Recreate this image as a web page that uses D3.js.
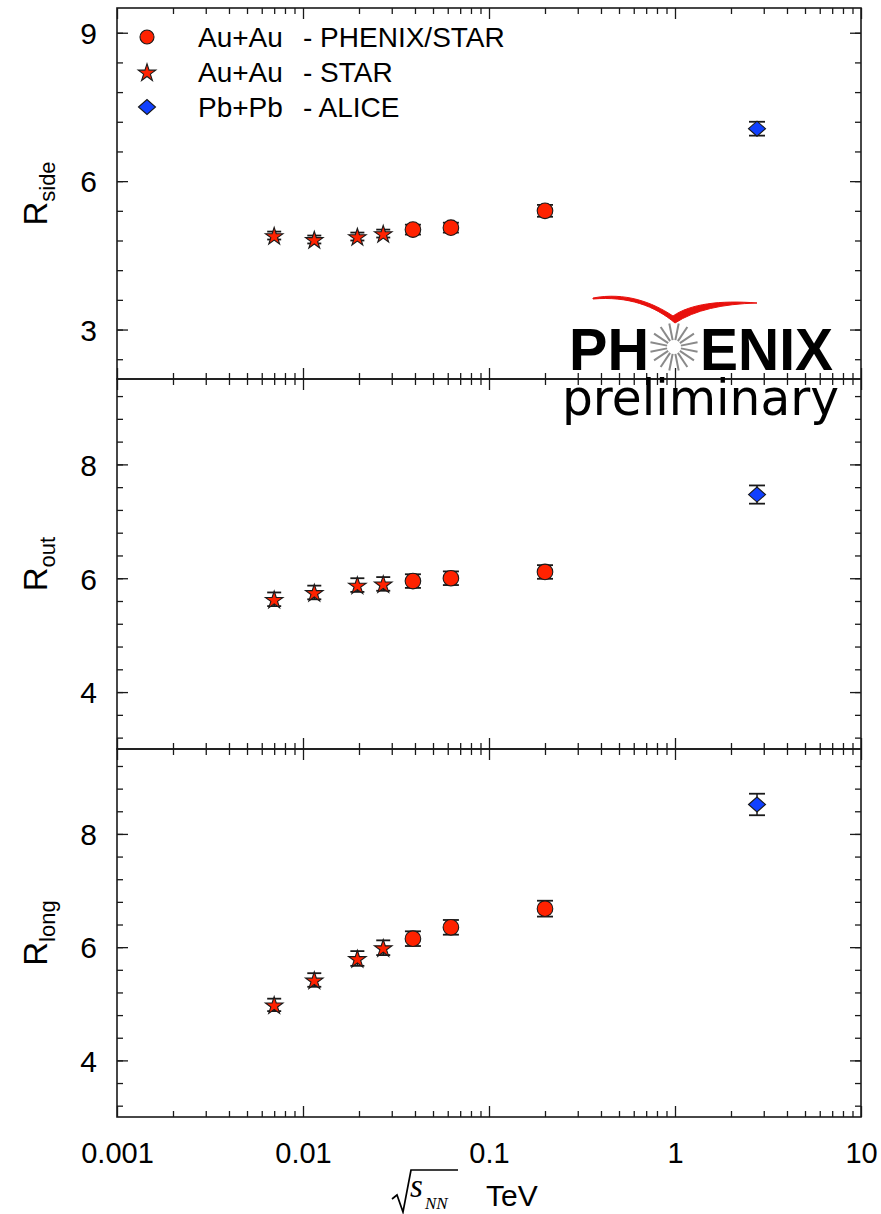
<!DOCTYPE html>
<html>
<head>
<meta charset="utf-8">
<script src="https://cdn.jsdelivr.net/npm/d3@7"></script>
<style>
  body { margin: 0; background: #fff; }
  svg { display: block; font-family: "Liberation Sans", Arial, sans-serif; }
</style>
</head>
<body>
<script>
// collision energy sqrt(s_NN) in TeV, one entry per point
const energy = [0.0070, 0.0115, 0.0196, 0.027, 0.039, 0.0624, 0.2, 2.76];
const experiment = ["STAR", "STAR", "STAR", "STAR", "PHENIX", "PHENIX", "PHENIX", "ALICE"];

// HBT radii (fm) and errors
const rSide    = [4.90, 4.82, 4.88, 4.94, 5.02, 5.06, 5.40, 7.06];
const rSideErr = [0.08, 0.08, 0.08, 0.08, 0.10, 0.10, 0.12, 0.14];
const rOut     = [5.63, 5.75, 5.88, 5.90, 5.95, 6.00, 6.11, 7.47];
const rOutErr  = [0.12, 0.12, 0.12, 0.12, 0.12, 0.12, 0.12, 0.16];
const rLong    = [4.98, 5.42, 5.80, 5.99, 6.15, 6.35, 6.68, 8.52];
const rLongErr = [0.11, 0.12, 0.13, 0.13, 0.13, 0.13, 0.14, 0.19];

const sideTicks = [3, 6, 9];
const outTicks = [4, 6, 8];
const longTicks = [4, 6, 8];
const xTickValues = [0.001, 0.01, 0.1, 1, 10];
const xTickLabels = ["0.001", "0.01", "0.1", "1", "10"];

const legendLabels = [
  ["Au+Au", "- PHENIX/STAR", "PHENIX"],
  ["Au+Au", "- STAR", "STAR"],
  ["Pb+Pb", "- ALICE", "ALICE"]
];

const W = 881, H = 1214;
const left = 117, right = 861;
const red = "#ff2200", blue = "#1040ff", ink = "#1a1a1a";

const svg = d3.select("body").append("svg")
  .attr("width", W).attr("height", H);

const x = d3.scaleLog().domain([0.001, 10]).range([left, right]);
const xMinor = x.ticks().filter(v => !xTickValues.some(t => Math.abs(t - v) < 1e-12));

const panels = [
  { sub: "side", values: rSide, errs: rSideErr, domain: [2, 9.5], ticks: sideTicks, minor: d3.range(2.4, 9.5, 0.6), top: 8, bottom: 379 },
  { sub: "out", values: rOut, errs: rOutErr, domain: [3, 9.5], ticks: outTicks, minor: d3.range(3.2, 9.5, 0.4), top: 379, bottom: 749 },
  { sub: "long", values: rLong, errs: rLongErr, domain: [3, 9.5], ticks: longTicks, minor: d3.range(3.2, 9.5, 0.4), top: 749, bottom: 1117 }
];

function marker(g, kind, cx, cy, scale = 1) {
  if (kind === "PHENIX") {
    g.append("circle").attr("cx", cx).attr("cy", cy).attr("r", 7.8 * scale)
      .attr("fill", red).attr("stroke", ink).attr("stroke-width", 1.1);
  } else if (kind === "STAR") {
    g.append("path").attr("d", d3.symbol().type(d3.symbolStar).size(96 * scale * scale)())
      .attr("transform", `translate(${cx},${cy + 1})`)
      .attr("fill", red).attr("stroke", ink).attr("stroke-width", 1.1);
  } else {
    const a = 8.5 * scale, b = 7.5 * scale;
    g.append("path").attr("d", `M${cx - a},${cy}L${cx},${cy - b}L${cx + a},${cy}L${cx},${cy + b}Z`)
      .attr("fill", blue).attr("stroke", ink).attr("stroke-width", 1.1);
  }
}

function styleAxis(g) {
  g.select(".domain").remove();
  g.selectAll(".tick line").attr("stroke", ink).attr("stroke-width", 1.3);
  g.selectAll("text").attr("fill", "#000").style("font-family", "Liberation Sans, Arial, sans-serif");
}

panels.forEach((p, pi) => {
  const y = d3.scaleLinear().domain(p.domain).range([p.bottom, p.top]);
  const g = svg.append("g");

  // minor ticks, four sides
  g.append("g").attr("transform", `translate(${left},0)`)
    .call(d3.axisLeft(y).tickValues(p.minor).tickSizeInner(-6).tickSizeOuter(0).tickFormat(""))
    .call(styleAxis);
  g.append("g").attr("transform", `translate(${right},0)`)
    .call(d3.axisRight(y).tickValues(p.minor).tickSizeInner(-6).tickSizeOuter(0).tickFormat(""))
    .call(styleAxis);
  g.append("g").attr("transform", `translate(0,${p.top})`)
    .call(d3.axisTop(x).tickValues(xMinor).tickSizeInner(-6).tickSizeOuter(0).tickFormat(""))
    .call(styleAxis);
  g.append("g").attr("transform", `translate(0,${p.bottom})`)
    .call(d3.axisBottom(x).tickValues(xMinor).tickSizeInner(-6).tickSizeOuter(0).tickFormat(""))
    .call(styleAxis);

  // major ticks
  g.append("g").attr("transform", `translate(${left},0)`)
    .call(d3.axisLeft(y).tickValues(p.ticks).tickSizeInner(-11).tickSizeOuter(0).tickPadding(20).tickFormat(d3.format("d")))
    .call(styleAxis)
    .call(a => a.selectAll("text").attr("font-size", 30).attr("dy", "0.36em"));
  g.append("g").attr("transform", `translate(${right},0)`)
    .call(d3.axisRight(y).tickValues(p.ticks).tickSizeInner(-11).tickSizeOuter(0).tickFormat(""))
    .call(styleAxis);
  g.append("g").attr("transform", `translate(0,${p.top})`)
    .call(d3.axisTop(x).tickValues(xTickValues).tickSizeInner(-11).tickSizeOuter(0).tickFormat(""))
    .call(styleAxis);
  const xb = g.append("g").attr("transform", `translate(0,${p.bottom})`)
    .call(d3.axisBottom(x).tickValues(xTickValues).tickSizeInner(-11).tickSizeOuter(0).tickPadding(20)
      .tickFormat((d, i) => pi === 2 ? xTickLabels[i] : ""))
    .call(styleAxis);
  xb.selectAll("text").attr("font-size", 29).attr("dy", "0.9em");

  // frame
  g.append("rect").attr("x", left).attr("y", p.top)
    .attr("width", right - left).attr("height", p.bottom - p.top)
    .attr("fill", "none").attr("stroke", ink).attr("stroke-width", 1.6);

  // y title R_sub
  const cy = (p.top + p.bottom) / 2;
  g.append("text")
    .attr("transform", `translate(47,${cy}) rotate(-90)`)
    .attr("text-anchor", "middle")
    .attr("font-size", 33)
    .call(t => {
      t.append("tspan").text("R");
      t.append("tspan").attr("font-size", 22).attr("dy", 8).text(p.sub);
    });

  // error bars + markers
  const pts = g.append("g");
  energy.forEach((e, i) => {
    const cx = x(e), v = p.values[i], err = p.errs[i];
    const y0 = y(v - err), y1 = y(v + err);
    const hw = experiment[i] === "STAR" ? 7 : 8;
    pts.append("line").attr("x1", cx).attr("x2", cx).attr("y1", y0).attr("y2", y1)
      .attr("stroke", ink).attr("stroke-width", 1.5);
    [y0, y1].forEach(yy => pts.append("line")
      .attr("x1", cx - hw).attr("x2", cx + hw).attr("y1", yy).attr("y2", yy)
      .attr("stroke", ink).attr("stroke-width", 1.8));
    marker(pts, experiment[i], cx, y(v));
  });
});

// legend
const lg = svg.append("g");
legendLabels.forEach((d, i) => {
  const yy = 37 + i * 35;
  marker(lg, d[2], 147, yy, d[2] === "PHENIX" ? 0.9 : 1);
  lg.append("text").attr("x", 198).attr("y", yy + 10).attr("font-size", 28).text(d[0]);
  lg.append("text").attr("x", 303).attr("y", yy + 10).attr("font-size", 28).text(d[1]);
});

// x axis title: sqrt(s_NN) TeV
const xt = svg.append("g");
xt.append("path")
  .attr("d", "M392,1199L397,1195L403,1212L411,1170L458,1170")
  .attr("fill", "none").attr("stroke", "#000").attr("stroke-width", 1.7);
xt.append("text").attr("x", 410).attr("y", 1197)
  .attr("font-family", "Liberation Serif, Times New Roman, serif")
  .attr("font-style", "italic").attr("font-size", 33).text("s");
xt.append("text").attr("x", 425).attr("y", 1209)
  .attr("font-family", "Liberation Serif, Times New Roman, serif")
  .attr("font-style", "italic").attr("font-size", 17).text("NN");
xt.append("text").attr("x", 486).attr("y", 1206).attr("font-size", 30).text("TeV");

// PHENIX preliminary logo
const logo = svg.append("g");
logo.append("path")
  .attr("d", "M593,298 C625,292 652,302 673,316 C690,304 720,300 757,303 C722,304 695,310 675,323 C655,306 628,296 593,299 Z")
  .attr("fill", "#e8100c").attr("stroke", "#e8100c").attr("stroke-width", 1);
logo.append("text").attr("x", 569).attr("y", 370)
  .attr("font-size", 60).attr("font-weight", "bold")
  .attr("textLength", 80).attr("lengthAdjust", "spacingAndGlyphs").text("PH");
logo.append("text").attr("x", 700).attr("y", 370)
  .attr("font-size", 60).attr("font-weight", "bold")
  .attr("textLength", 133).attr("lengthAdjust", "spacingAndGlyphs").text("ENIX");
const bx = 674, by = 347;
d3.range(16).forEach(k => {
  const a = k * Math.PI / 8 + Math.PI / 16;
  logo.append("line")
    .attr("x1", bx + 7 * Math.cos(a)).attr("y1", by + 7 * Math.sin(a))
    .attr("x2", bx + 24 * Math.cos(a)).attr("y2", by + 24 * Math.sin(a))
    .attr("stroke", "#8a8a8a").attr("stroke-width", 2);
});
logo.append("text").attr("x", 562).attr("y", 415)
  .attr("font-family", "DejaVu Sans, sans-serif")
  .attr("font-size", 50)
  .attr("textLength", 277).attr("lengthAdjust", "spacingAndGlyphs")
  .text("preliminary");
</script>
</body>
</html>
